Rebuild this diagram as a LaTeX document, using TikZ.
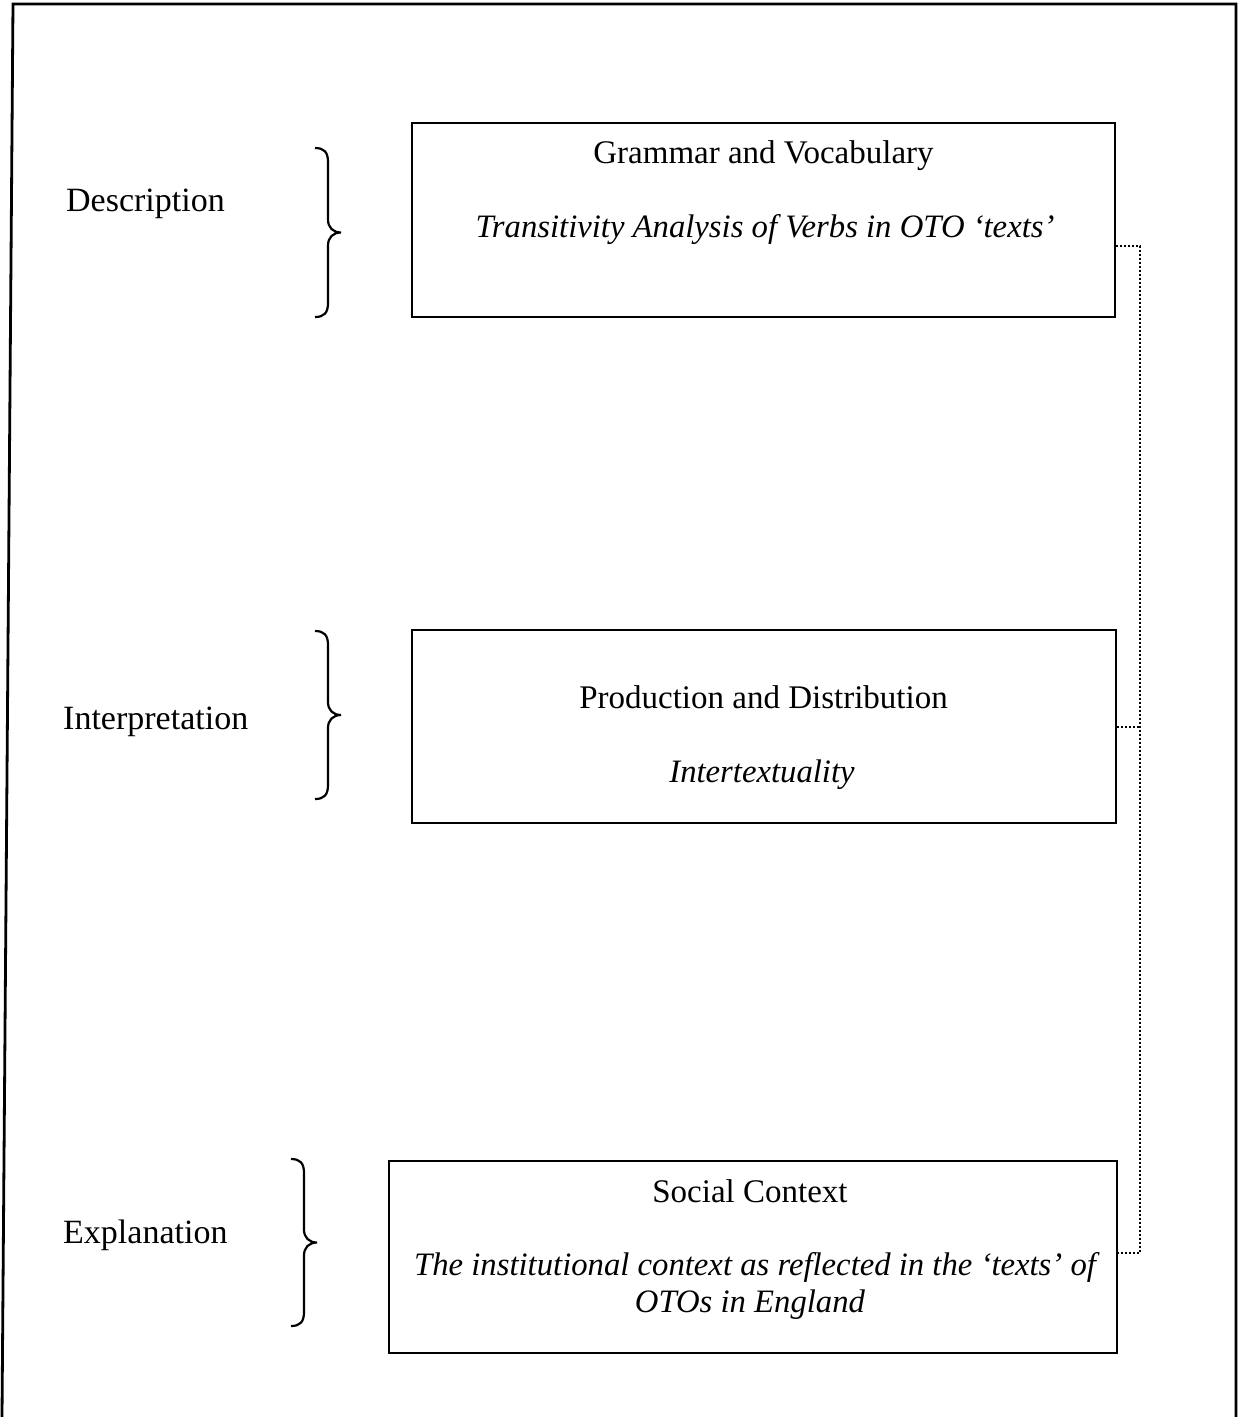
\documentclass[tikz,border=0pt]{standalone}
\usepackage{fontspec}
\setmainfont{Liberation Serif}
\newcommand{\stagebrace}[3]{% x of ends, top y, bottom y
  \pgfmathsetmacro{\bm}{(#2+#3)/2}
  \draw[bracepath] (#1,#2) .. controls (#1+9,#2) and (#1+13,#2+4) .. (#1+13,#2+14)
    -- (#1+13,\bm-13) .. controls (#1+13,\bm-5) and (#1+18,\bm) .. (#1+26,\bm)
    .. controls (#1+18,\bm) and (#1+13,\bm+5) .. (#1+13,\bm+13)
    -- (#1+13,#3-14) .. controls (#1+13,#3-4) and (#1+9,#3) .. (#1,#3);}
\begin{document}
\begin{tikzpicture}[x=1pt,y=-1pt,
  box/.style={draw, line width=1.7pt, inner sep=0pt},
  txt/.style={anchor=base, inner sep=0pt, font=\fontsize{33}{40}\selectfont},
  itxt/.style={anchor=base, inner sep=0pt, font=\fontsize{32.7}{39}\selectfont\itshape},
  lbl/.style={anchor=base west, inner sep=0pt, font=\fontsize{34}{40}\selectfont},
  bracepath/.style={line width=2.2pt},
  dotline/.style={line width=2pt, dash pattern=on 2pt off 2pt}]
\useasboundingbox (0,0) rectangle (1242,1417);

% outer frame (open at the bottom)
\draw[line width=2.8pt] (2,1417) -- (13,4) -- (1236,4) -- (1236,1417);

% the three analysis boxes
\node[box, minimum width=703pt, minimum height=194pt] (b1) at (763.5,220) {};
\node[box, minimum width=704pt, minimum height=193pt] (b2) at (764,726.5) {};
\node[box, minimum width=728pt, minimum height=192pt] (b3) at (753,1257) {};

% box contents
\node[txt] (t1) at (763.5,163) {Grammar and Vocabulary};
\node[itxt] (s1) at (765,237) {Transitivity Analysis of Verbs in OTO ‘texts’};
\node[txt] (t2) at (763.5,708) {Production and Distribution};
\node[itxt] (s2) at (762,782) {Intertextuality};
\node[txt] (t3) at (750,1202) {Social Context};
\node[itxt] (s3) at (755,1275) {The institutional context as reflected in the ‘texts’ of};
\node[itxt] (s3b) at (750,1312) {OTOs in England};

% stage labels
\node[lbl] (l1) at (66,211) {Description};
\node[lbl] (l2) at (63,729) {Interpretation};
\node[lbl] (l3) at (63,1243) {Explanation};

% curly braces pointing at the boxes
\stagebrace{315}{148}{317}
\stagebrace{315}{631}{799}
\stagebrace{291}{1159}{1326}

% dotted bracket joining the boxes on the right
\coordinate (j1) at (1140,246);
\coordinate (j3) at (1140,1253);
\draw[dotline] (b1.east |- j1) -- (j1) -- (j3) -- (b3.east |- j3);
\draw[dotline] (b2.east) -- (b2.east -| j1);
\end{tikzpicture}
\end{document}
